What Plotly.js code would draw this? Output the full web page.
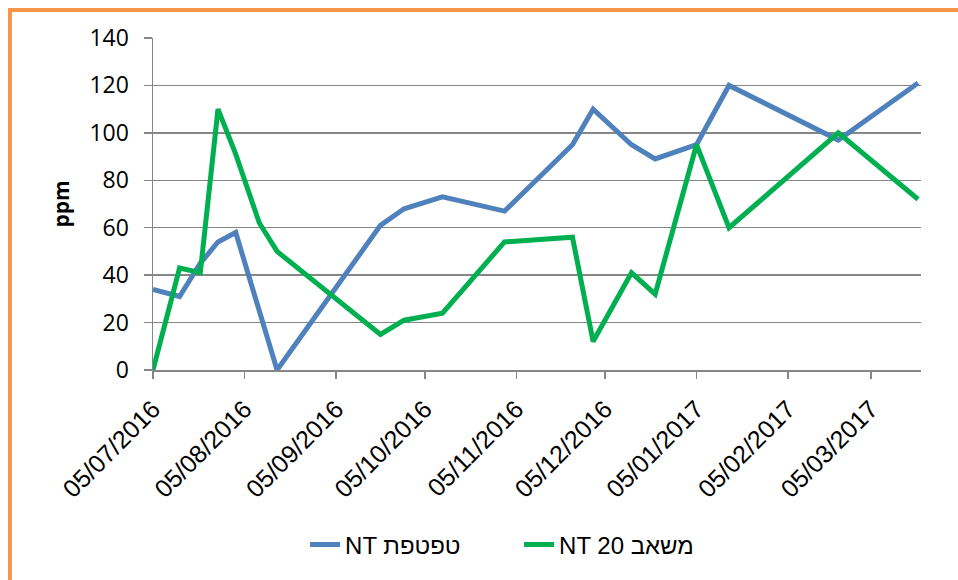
<!DOCTYPE html>
<html>
<head>
<meta charset="utf-8">
<script src="https://cdn.plot.ly/plotly-3.0.1.min.js"></script>
<style>
  html, body { margin: 0; padding: 0; background: #fff; overflow: hidden; }
  #frame { position: absolute; left: 8px; top: 8px; width: 1200px; height: 1200px;
           border-left: 4px solid #F79646; border-top: 4px solid #F79646; box-sizing: border-box; }
  #chart { position: absolute; left: 0; top: 0; width: 958px; height: 580px; }
</style>
</head>
<body>
<div id="frame"></div>
<div id="chart"></div>
<script>
// Series 1: טפטפת NT (blue)
const dripDates = ['2016-07-05','2016-07-14','2016-07-21','2016-07-27','2016-08-02','2016-08-16',
  '2016-09-20','2016-09-28','2016-10-11','2016-11-01','2016-11-24','2016-12-01','2016-12-14',
  '2016-12-22','2017-01-05','2017-01-16','2017-02-22','2017-03-21'];
const dripValues = [34, 31, 45, 54, 58, 0, 61, 68, 73, 67, 95, 110, 95, 89, 95, 120, 97, 121];

// Series 2: משאב 20 NT (green)
const pumpDates = ['2016-07-05','2016-07-14','2016-07-21','2016-07-27','2016-08-02','2016-08-10',
  '2016-08-16','2016-09-20','2016-09-28','2016-10-11','2016-11-01','2016-11-24','2016-12-01',
  '2016-12-14','2016-12-22','2017-01-05','2017-01-16','2017-02-22','2017-03-21'];
const pumpValues = [0, 43, 41, 110, 91, 62, 50, 15, 21, 24, 54, 56, 12, 41, 32, 95, 60, 100, 72];

const seriesNames = ['NT טפטפת', 'NT 20 משאב'];
const tickDates = ['2016-07-05','2016-08-05','2016-09-05','2016-10-05','2016-11-05',
  '2016-12-05','2017-01-05','2017-02-05','2017-03-05'];
const tickLabels = ['05/07/2016','05/08/2016','05/09/2016','05/10/2016','05/11/2016',
  '05/12/2016','05/01/2017','05/02/2017','05/03/2017'];
const yTicks = [0, 20, 40, 60, 80, 100, 120, 140];

const ARIAL = "'Liberation Sans', Arial, sans-serif";
const CALI = "'Open Sans', Calibri, sans-serif";

const traces = [
  { x: dripDates, y: dripValues, name: seriesNames[0], type: 'scatter', mode: 'lines',
    line: { color: '#4F81BD', width: 5 } },
  { x: pumpDates, y: pumpValues, name: seriesNames[1], type: 'scatter', mode: 'lines',
    line: { color: '#00B050', width: 5 } }
];

const layout = {
  width: 958, height: 580,
  margin: { l: 153, r: 37, t: 38, b: 210 },
  paper_bgcolor: 'rgba(0,0,0,0)',
  plot_bgcolor: 'rgba(0,0,0,0)',
  showlegend: true,
  legend: {
    orientation: 'h', x: 0.198, xanchor: 'left', y: -0.527, yanchor: 'middle',
    font: { family: ARIAL, size: 24, color: '#000' },
    entrywidth: 169, entrywidthmode: 'pixels'
  },
  xaxis: {
    type: 'date',
    range: ['2016-07-05', '2017-03-22'],
    tickmode: 'array', tickvals: tickDates, ticktext: tickLabels,
    tickangle: -45,
    tickfont: { family: ARIAL, size: 25, color: '#000' },
    ticks: 'outside', ticklen: 7, tickwidth: 1.5, tickcolor: '#868686',
    ticklabelstandoff: 6,
    showline: true, linecolor: '#868686', linewidth: 1.5,
    showgrid: false, zeroline: false, fixedrange: true
  },
  yaxis: {
    range: [0, 140],
    tickmode: 'array', tickvals: yTicks,
    tickfont: { family: CALI, size: 23, color: '#000' },
    ticks: 'outside', ticklen: 8, tickwidth: 1.5, tickcolor: '#868686',
    ticklabelstandoff: 10,
    showline: true, linecolor: '#868686', linewidth: 1.5,
    showgrid: true, gridcolor: '#868686', gridwidth: 1.5,
    zeroline: false, fixedrange: true,
    title: { text: '<b>ppm</b>', font: { family: CALI, size: 21, color: '#000' }, standoff: 14 }
  }
};

Plotly.newPlot('chart', traces, layout, { displayModeBar: false, staticPlot: true });
</script>
</body>
</html>
